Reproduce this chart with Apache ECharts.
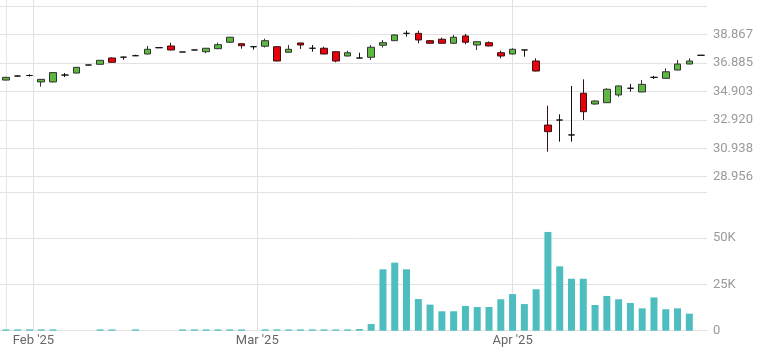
<!DOCTYPE html>
<html>
<head>
<meta charset="utf-8">
<script src="https://cdn.jsdelivr.net/npm/echarts@6/dist/echarts.min.js"></script>
<style>html,body{margin:0;padding:0;background:#fff}#c{width:781px;height:362px}</style>
</head>
<body>
<div id="c"></div>
<script>
const dates = [
 '2025-01-29','2025-01-30','2025-01-31',
 '2025-02-03','2025-02-04','2025-02-05','2025-02-06','2025-02-07',
 '2025-02-10','2025-02-11','2025-02-12','2025-02-13','2025-02-14',
 '2025-02-18','2025-02-19','2025-02-20','2025-02-21',
 '2025-02-24','2025-02-25','2025-02-26','2025-02-27','2025-02-28',
 '2025-03-03','2025-03-04','2025-03-05','2025-03-06','2025-03-07',
 '2025-03-10','2025-03-11','2025-03-12','2025-03-13','2025-03-14',
 '2025-03-17','2025-03-18','2025-03-19','2025-03-20','2025-03-21',
 '2025-03-24','2025-03-25','2025-03-26','2025-03-27','2025-03-28',
 '2025-03-31',
 '2025-04-01','2025-04-02','2025-04-03','2025-04-04',
 '2025-04-07','2025-04-08','2025-04-09','2025-04-10','2025-04-11',
 '2025-04-14','2025-04-15','2025-04-16','2025-04-17',
 '2025-04-21','2025-04-22','2025-04-23','2025-04-24'
];
const openP = [35.70,35.98,36.02,35.57,35.57,36.05,36.19,36.75,36.80,37.24,
 37.30,37.40,37.52,37.96,38.08,37.66,37.80,37.68,37.89,38.34,
 38.24,38.03,38.06,38.03,37.64,38.29,37.92,37.92,37.68,37.38,
 37.24,37.29,38.13,38.45,38.96,38.96,38.45,38.55,38.27,38.78,
 38.15,38.31,37.61,37.52,37.80,37.03,32.56,32.91,31.87,34.78,
 34.03,34.12,34.66,35.13,34.87,35.89,35.82,36.40,36.82,37.43];
const closeP = [35.89,35.98,36.02,35.75,36.22,36.05,36.59,36.75,37.08,36.94,
 37.30,37.40,37.85,37.96,37.80,37.66,37.80,37.92,38.17,38.69,
 38.10,38.03,38.45,37.03,37.85,38.15,37.92,37.52,37.03,37.61,
 37.24,37.99,38.31,38.85,38.96,38.50,38.27,38.27,38.69,38.34,
 38.38,38.08,37.38,37.85,37.80,36.33,32.10,32.91,31.87,33.49,
 34.24,35.06,35.29,35.13,35.40,35.89,36.28,36.82,37.03,37.43];
const lowP = [35.68,35.95,35.95,35.24,35.54,35.91,36.17,36.73,36.78,36.92,
 37.12,37.38,37.50,37.93,37.78,37.66,37.79,37.57,37.87,38.29,
 37.89,37.82,37.97,37.01,37.62,37.87,37.68,37.50,36.94,37.36,
 37.22,37.10,37.97,38.43,38.73,38.27,38.25,38.25,38.25,38.20,
 37.80,38.06,37.22,37.50,37.33,36.31,30.70,31.40,31.40,32.91,
 33.98,34.10,34.54,34.89,34.85,35.78,35.80,36.38,36.80,37.43];
const highP = [35.92,36.04,36.10,35.77,36.24,36.19,36.61,36.77,37.10,37.29,
 37.33,37.47,38.08,38.00,38.31,37.66,37.81,37.94,38.31,38.71,
 38.26,38.05,38.59,38.05,38.15,38.31,38.15,38.03,37.70,37.75,
 37.61,38.15,38.50,38.87,39.15,39.15,38.50,38.66,38.85,38.92,
 38.40,38.40,37.75,37.92,37.82,37.22,33.91,33.31,35.29,35.75,
 34.28,35.13,35.31,35.43,35.70,36.00,36.52,37.10,37.22,37.43];
const volume = [700,700,700,700,700,0,0,0,700,700,
 0,700,0,0,0,700,700,700,700,700,
 700,0,700,700,700,700,700,700,700,700,
 900,3600,33200,36800,33200,17100,14100,10500,10500,13400,
 12800,12800,17000,19800,14400,22400,53400,34800,28100,28100,
 13900,18800,17000,15000,12100,18000,11600,12100,9200,0];
const priceTicks = [28.956, 30.938, 32.920, 34.903, 36.885, 38.867];
const priceGridTicks = [28.956, 30.938, 32.920, 34.903, 36.885, 38.867, 40.849];
const volumeTicks = [0, 25000, 50000];
const volumeGridTicks = [0, 25000, 50000, 75000];
const monthLabels = ["Feb '25", "Mar '25", "Apr '25"];
const monthStarts = ['2025-02-01', '2025-03-01', '2025-04-01'];

// fractional index of each month start between trading days (by calendar days)
const dayNum = s => Date.parse(s + 'T00:00:00Z') / 86400000;
const monthPos = monthStarts.map(ms => {
  const m = dayNum(ms);
  for (let i = 0; i < dates.length; i++) {
    const d = dayNum(dates[i]);
    if (d >= m) {
      if (d === m || i === 0) return i;
      const p = dayNum(dates[i - 1]);
      return (i - 1) + (m - p) / (d - p);
    }
  }
  return dates.length - 1;
});
const monthLabelOf = v => {
  for (let k = 0; k < monthPos.length; k++) if (Math.abs(monthPos[k] - v) < 1e-6) return monthLabels[k];
  return '';
};

const candleData = dates.map((d, i) => [i, openP[i], closeP[i], lowP[i], highP[i]]);
const volData = dates.map((d, i) => [i, volume[i]]);

const chart = echarts.init(document.getElementById('c'), null, {renderer: 'canvas'});
const gridLine = {show: true, lineStyle: {color: '#e2e2e2', width: 1}};
const fontFam = 'Roboto, "DejaVu Sans", sans-serif';
chart.setOption({
  animation: false,
  backgroundColor: '#fff',
  grid: [
    {left: -2, right: 74, top: 0, height: 192},
    {left: -2, right: 74, top: 192, height: 138.7}
  ],
  xAxis: [
    {type: 'value', gridIndex: 0, min: -0.5, max: dates.length - 0.5,
     axisLine: {show: false}, axisTick: {show: false, customValues: monthPos},
     axisLabel: {show: false, customValues: monthPos}, splitLine: gridLine},
    {type: 'value', gridIndex: 1, min: -0.5, max: dates.length - 0.5,
     axisLine: {show: true, lineStyle: {color: '#e2e2e2'}},
     axisTick: {show: false, customValues: monthPos},
     axisLabel: {show: true, customValues: monthPos, formatter: v => monthLabelOf(v),
       color: '#666', fontSize: 13, fontFamily: fontFam, margin: 4},
     splitLine: gridLine}
  ],
  yAxis: [
    {type: 'value', gridIndex: 0, position: 'right', min: 27.887, max: 41.289, scale: true,
     axisLine: {show: true, lineStyle: {color: '#e6e6e6'}},
     axisTick: {show: false, customValues: priceGridTicks},
     axisLabel: {show: true, customValues: priceTicks, formatter: v => v.toFixed(3),
       color: '#9a9a9a', fontSize: 13, fontFamily: fontFam, margin: 6},
     splitLine: gridLine},
    {type: 'value', gridIndex: 1, position: 'right', min: 0, max: 75000,
     axisLine: {show: true, lineStyle: {color: '#e6e6e6'}},
     axisTick: {show: false, customValues: volumeGridTicks},
     axisLabel: {show: true, customValues: volumeTicks,
       formatter: v => v === 0 ? '0' : (v / 1000) + 'K',
       color: '#9a9a9a', fontSize: 13, fontFamily: fontFam, margin: 6},
     splitLine: gridLine}
  ],
  series: [
    {type: 'candlestick', xAxisIndex: 0, yAxisIndex: 0, data: candleData,
     encode: {x: 0, y: [1, 2, 3, 4]}, barWidth: 7,
     itemStyle: {color: '#5cb83e', color0: '#e8000c', borderColor: '#333',
       borderColor0: '#3a1010', borderColorDoji: '#111', borderWidth: 1}},
    {type: 'bar', xAxisIndex: 1, yAxisIndex: 1, data: volData, barWidth: 7,
     itemStyle: {color: '#4dbdc0'}}
  ]
});
</script>
</body>
</html>
